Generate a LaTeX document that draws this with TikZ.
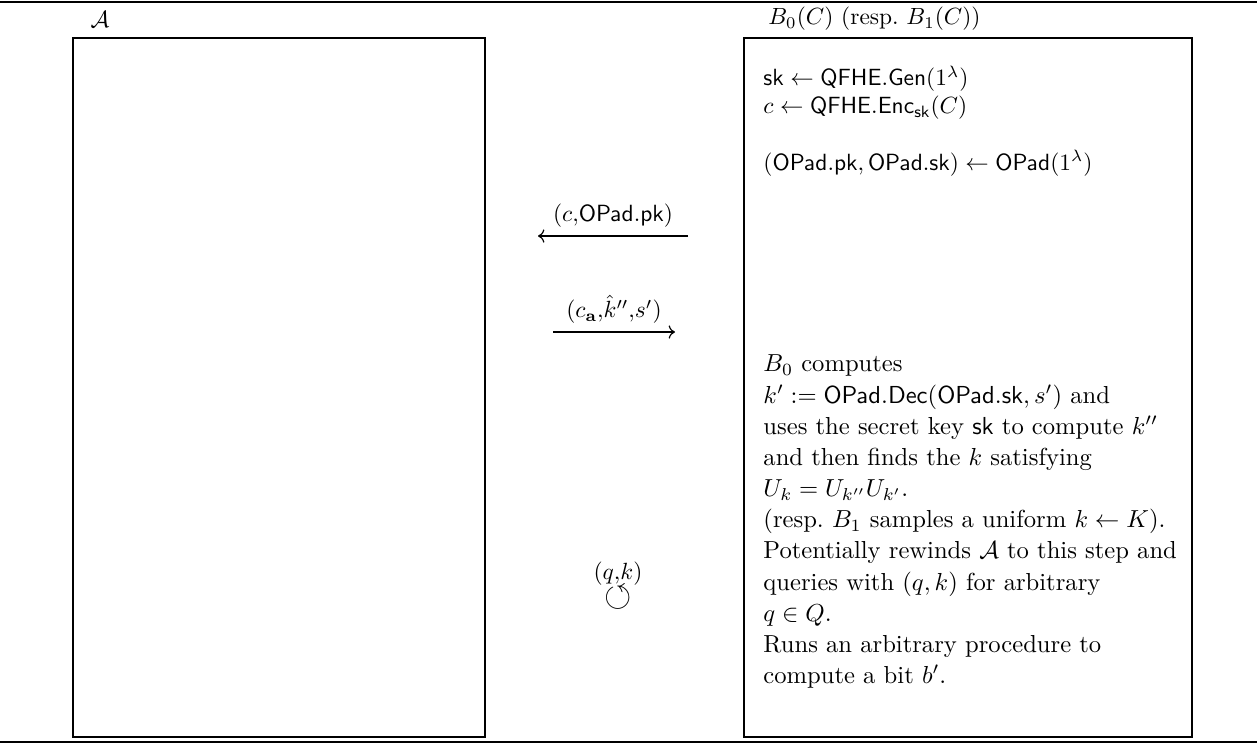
\RequirePackage{fix-cm}
\documentclass[tikz,border=0pt]{standalone}
\usepackage{amsmath,amssymb}
\usepackage{tikz}
\usetikzlibrary{arrows.meta,positioning,calc}

\tikzset{
  party/.style={draw,line width=0.5pt},
  msg/.style={->,line width=0.5pt},
  steps/.style={anchor=north west,align=left,inner sep=0pt}
}

\begin{document}
\begin{tikzpicture}[>={Computer Modern Rightarrow},scale=1.0]
  \useasboundingbox (0,0) rectangle (18.9,-11.16);
  % top and bottom rules
  \draw[line width=0.9pt] (0,-0.03) -- (18.855,-0.03);
  \draw[line width=0.9pt] (0,-11.13) -- (18.855,-11.13);
  % the two parties
  \draw[party] (1.095,-0.57) rectangle (7.275,-11.055);
  \draw[party] (11.16,-0.57) rectangle (17.88,-11.055);
  \node (adv) at (1.5,-0.285) {$\mathcal{A}$};
  \node[anchor=west,inner sep=0pt] (chal) at (11.52,-0.285) {$B_0(C)$ (resp.\ $B_1(C)$)};
  % challenger steps
  \node[steps] (setup) at (11.445,-0.98)
     {$\mathsf{sk} \leftarrow \mathsf{QFHE.Gen}(1^\lambda)$\\
      $c \leftarrow \mathsf{QFHE.Enc}_{\mathsf{sk}}(C)$\\[12pt]
      $(\mathsf{OPad.pk}, \mathsf{OPad.sk}) \leftarrow \mathsf{OPad}(1^\lambda)$};
  \node[steps,font=\fontsize{10.5}{13.3}\selectfont] (reply) at (11.445,-5.32)
     {$B_0$ computes\\
      $k' := \mathsf{OPad.Dec}(\mathsf{OPad.sk}, s')$ and\\
      uses the secret key $\mathsf{sk}$ to compute $k''$\\
      and then finds the $k$ satisfying\\
      $U_k = U_{k''}U_{k'}$.\\
      (resp.\ $B_1$ samples a uniform $k \leftarrow K$).\\
      Potentially rewinds $\mathcal{A}$ to this step and\\
      queries with $(q,k)$ for arbitrary\\
      $q \in Q$.\\
      Runs an arbitrary procedure to\\
      compute a bit $b'$.};
  % messages
  \coordinate (m1s) at (10.32,-3.54);
  \coordinate (m1e) at (8.07,-3.54);
  \draw[msg] (m1s) -- (m1e) node[midway,above] (m1) {$(c{,}\mathsf{OPad.pk})$};
  \coordinate (m2s) at (8.295,-4.98);
  \coordinate (m2e) at (10.125,-4.98);
  \draw[msg] (m2s) -- (m2e) node[midway,above] (m2) {$(c_{\mathbf{a}}{,}\hat{k}''{,}s')$};
  \node (qk) at (9.27,-8.61) {$(q{,}k)$};
  \node[scale=1.5,inner sep=0pt] (rw) at (9.27,-8.96) {$\circlearrowleft$};
\end{tikzpicture}
\end{document}
